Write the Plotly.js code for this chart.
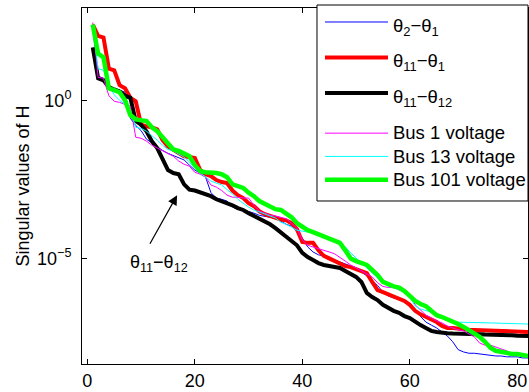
<!DOCTYPE html>
<html>
<head>
<meta charset="utf-8">
<script src="https://cdn.plot.ly/plotly-3.0.1.min.js"></script>
<style>html,body{margin:0;padding:0;background:#fff;}#plot{width:529px;height:392px;}</style>
</head>
<body>
<div id="plot"></div>
<script>
// Singular index 1..82
const index = Array.from({length: 82}, (_, i) => i + 1);

// Singular values (log scale)
const theta2_theta1 = [2.0e2,5.7,5.0,2.4,2.2,2.1,1.8,2.7e-1,1.6e-1,1.1e-1,
  5.9e-2,4.4e-2,3.5e-2,2.6e-2,2.1e-2,1.8e-2,1.6e-2,1.3e-2,8.9e-3,6.2e-3,
  5.0e-3,3.7e-3,1.2e-3,8.1e-4,7.4e-4,6.5e-4,4.2e-4,3.6e-4,3.4e-4,3.1e-4,
  2.7e-4,2.3e-4,2.2e-4,2.0e-4,1.9e-4,1.5e-4,1.2e-4,1.05e-4,7.3e-5,4.4e-5,
  2.3e-5,1.6e-5,1.3e-5,1.2e-5,1.0e-5,8.9e-6,7.7e-6,6.6e-6,5.7e-6,5.0e-6,
  3.7e-6,2.8e-6,1.9e-6,1.4e-6,8.6e-7,6.5e-7,5.6e-7,5.6e-7,4.8e-7,3.6e-7,
  2.2e-7,1.5e-7,9.7e-8,7.8e-8,6.3e-8,4.7e-8,3.5e-8,2.3e-8,1.3e-8,1.1e-8,
  1.0e-8,1.0e-8,9.5e-9,8.9e-9,8.9e-9,8.2e-9,8.2e-9,7.7e-9,7.7e-9,7.7e-9,
  7.1e-9,7.1e-9];

const theta11_theta1 = [2.5e2,1.1e2,9.7e1,1.0e1,8.9,3.0,2.4,1.2,9.3e-1,1.7e-1,
  1.5e-1,1.4e-1,1.2e-1,5.5e-2,3.5e-2,2.8e-2,2.3e-2,1.7e-2,1.6e-2,1.5e-2,
  6.2e-3,4.6e-3,4.0e-3,3.0e-3,2.6e-3,2.4e-3,1.4e-3,1.0e-3,8.1e-4,5.6e-4,
  4.5e-4,3.1e-4,2.5e-4,2.2e-4,1.9e-4,1.7e-4,1.6e-4,1.3e-4,8.4e-5,3.3e-5,
  3.1e-5,3.1e-5,1.8e-5,1.2e-5,1.0e-5,8.2e-6,6.6e-6,5.7e-6,5.3e-6,4.6e-6,
  4.0e-6,3.4e-6,1.8e-6,1.0e-6,8.6e-7,7.4e-7,6.5e-7,5.6e-7,4.5e-7,3.4e-7,
  2.2e-7,1.7e-7,1.4e-7,1.1e-7,9.7e-8,7.3e-8,6.3e-8,6.3e-8,5.9e-8,5.5e-8,
  5.5e-8,5.4e-8,5.3e-8,5.2e-8,5.1e-8,5.0e-8,4.9e-8,4.9e-8,4.8e-8,4.8e-8,
  4.7e-8,4.7e-8];

const theta11_theta12 = [4.7e1,5.0,4.3,2.6,2.2,1.9,1.4,1.2,2.2e-1,1.7e-1,
  1.05e-1,5.1e-2,3.1e-2,1.3e-2,6.2e-3,5.0e-3,4.6e-3,2.2e-3,1.5e-3,1.4e-3,
  1.2e-3,1.1e-3,9.3e-4,7.4e-4,6.5e-4,5.6e-4,4.8e-4,3.9e-4,3.4e-4,2.7e-4,
  2.2e-4,1.9e-4,1.5e-4,1.2e-4,9.1e-5,6.8e-5,5.1e-5,3.8e-5,2.6e-5,1.5e-5,
  1.1e-5,8.9e-6,7.1e-6,6.2e-6,5.7e-6,5.3e-6,5.0e-6,4.0e-6,3.2e-6,2.6e-6,
  1.8e-6,8.1e-7,6.0e-7,4.8e-7,3.4e-7,2.7e-7,2.2e-7,1.9e-7,1.5e-7,1.3e-7,
  9.7e-8,7.8e-8,6.3e-8,5.1e-8,4.7e-8,4.4e-8,4.3e-8,4.2e-8,4.2e-8,4.1e-8,
  4.1e-8,4.0e-8,4.0e-8,3.9e-8,3.9e-8,3.8e-8,3.8e-8,3.7e-8,3.7e-8,3.6e-8,
  3.6e-8,3.5e-8];

const bus1_voltage = [2.9e2,5.3,5.0,1.4,9.3e-1,8.6e-1,7.4e-1,6.5e-1,6.8e-2,6.3e-2,
  5.1e-2,3.8e-2,3.1e-2,2.5e-2,2.0e-2,1.7e-2,1.2e-2,9.5e-3,8.2e-3,5.3e-3,
  4.6e-3,3.7e-3,2.1e-3,1.8e-3,1.4e-3,1.0e-3,8.6e-4,8.6e-4,8.1e-4,8.1e-4,
  4.8e-4,3.1e-4,2.7e-4,2.3e-4,2.2e-4,2.0e-4,1.8e-4,1.3e-4,9.1e-5,3.8e-5,
  2.6e-5,2.3e-5,2.0e-5,1.8e-5,1.6e-5,1.4e-5,1.1e-5,8.2e-6,6.2e-6,5.0e-6,
  4.0e-6,3.4e-6,2.6e-6,1.7e-6,1.3e-6,1.2e-6,1.2e-6,1.0e-6,8.6e-7,7.4e-7,
  3.4e-7,2.3e-7,1.6e-7,1.3e-7,1.05e-7,9.1e-8,7.3e-8,6.3e-8,5.5e-8,5.1e-8,
  4.1e-8,3.3e-8,2.1e-8,1.8e-8,1.8e-8,1.6e-8,1.4e-8,1.2e-8,1.0e-8,8.9e-9,
  8.2e-9,7.7e-9];

const bus13_voltage = [2.0e2,1.0e1,8.9,3.0,1.5,1.0,7.4e-1,4.8e-1,1.4e-1,1.3e-1,
  1.05e-1,7.8e-2,5.5e-2,3.8e-2,2.8e-2,2.5e-2,2.0e-2,1.6e-2,1.1e-2,7.1e-3,
  5.0e-3,3.7e-3,2.8e-3,2.4e-3,2.1e-3,1.5e-3,1.1e-3,7.4e-4,5.6e-4,4.2e-4,
  3.4e-4,2.9e-4,2.5e-4,2.2e-4,1.9e-4,1.4e-4,1.2e-4,9.7e-5,7.8e-5,7.3e-5,
  6.8e-5,6.3e-5,5.9e-5,5.1e-5,4.4e-5,3.5e-5,2.8e-5,2.3e-5,1.5e-5,1.0e-5,
  7.1e-6,5.0e-6,3.4e-6,2.4e-6,1.7e-6,1.3e-6,1.2e-6,1.0e-6,8.6e-7,6.0e-7,
  3.1e-7,2.5e-7,2.2e-7,2.0e-7,1.6e-7,1.3e-7,1.1e-7,9.7e-8,9.7e-8,9.7e-8,
  9.5e-8,9.4e-8,9.3e-8,9.2e-8,9.1e-8,9.0e-8,8.9e-8,8.8e-8,8.7e-8,8.6e-8,
  8.5e-8,8.4e-8];

const bus101_voltage = [2.5e2,3.0e1,2.3e1,2.4,2.1,1.8,1.0,3.4e-1,2.5e-1,2.3e-1,
  2.2e-1,1.4e-1,1.05e-1,6.8e-2,4.4e-2,2.8e-2,2.5e-2,2.0e-2,1.7e-2,8.9e-3,
  5.7e-3,5.3e-3,5.3e-3,5.0e-3,4.6e-3,3.7e-3,2.2e-3,1.9e-3,1.7e-3,1.2e-3,
  9.3e-4,6.5e-4,5.2e-4,4.2e-4,3.6e-4,3.4e-4,2.5e-4,2.0e-4,1.3e-4,9.7e-5,
  7.8e-5,6.8e-5,5.9e-5,5.1e-5,4.4e-5,3.8e-5,3.1e-5,1.8e-5,1.0e-5,8.2e-6,
  7.1e-6,6.2e-6,4.3e-6,3.0e-6,1.8e-6,1.5e-6,1.3e-6,1.2e-6,9.3e-7,6.5e-7,
  4.5e-7,3.6e-7,3.1e-7,2.2e-7,1.6e-7,1.4e-7,1.2e-7,1.05e-7,8.4e-8,6.8e-8,
  5.5e-8,4.4e-8,3.3e-8,2.3e-8,1.5e-8,1.2e-8,1.1e-8,1.0e-8,9.5e-9,9.5e-9,
  8.9e-9,8.2e-9];

const seriesNames = ['θ<sub>2</sub>−θ<sub>1</sub>', 'θ<sub>11</sub>−θ<sub>1</sub>', 'θ<sub>11</sub>−θ<sub>12</sub>',
  'Bus 1 voltage', 'Bus 13 voltage', 'Bus 101 voltage'];
const xTicks = [0, 20, 40, 60, 80];
const yTickVals = [1, 1e-5];
const yTickText = ['10<sup>0</sup>', '10<sup>−5</sup>'];
const annotationText = 'θ<sub>11</sub>−θ<sub>12</sub>';

const seriesData = [theta2_theta1, theta11_theta1, theta11_theta12, bus1_voltage, bus13_voltage, bus101_voltage];
const colors = ['#0000ff', '#ff0000', '#000000', '#ff00ff', '#00ffff', '#00ff00'];
const widths = [1, 4, 4, 1, 1, 4.5];
const legendIds = ['legend', 'legend', 'legend', 'legend2', 'legend2', 'legend2'];

const traces = seriesData.map((ys, i) => ({
  x: index, y: ys, type: 'scatter', mode: 'lines',
  name: '<span style="font-size:18.5px">' + seriesNames[i] + '</span>',
  legend: legendIds[i],
  line: {color: colors[i], width: widths[i]}
}));

const fam = 'Liberation Sans, Arial, sans-serif';
const font = {family: fam, size: 18, color: '#000'};

const layout = {
  width: 529, height: 392,
  margin: {l: 82, r: 1, t: 8, b: 28, autoexpand: false},
  paper_bgcolor: '#fff', plot_bgcolor: '#fff',
  font: font,
  showlegend: true,
  xaxis: {
    range: [-1, 82], tickvals: xTicks, ticktext: xTicks.map(String),
    ticks: 'inside', ticklen: 5, tickcolor: '#000', showline: true, linecolor: '#000', linewidth: 1,
    mirror: 'ticks', showgrid: false, zeroline: false, tickfont: font, automargin: false
  },
  yaxis: {
    type: 'log', range: [-8.34, 2.92], tickvals: yTickVals, ticktext: yTickText,
    ticks: 'inside', ticklen: 5, tickcolor: '#000', showline: true, linecolor: '#000', linewidth: 1,
    mirror: 'ticks', showgrid: false, zeroline: false, tickfont: font, ticklabelstandoff: 6,
    automargin: false,
    title: {text: 'Singular values of H', font: font, standoff: 2}
  },
  legend: {
    x: 0.5336, y: 1.0246, xanchor: 'left', yanchor: 'top',
    bgcolor: 'rgba(0,0,0,0)', borderwidth: 0,
    font: {family: fam, size: 25, color: '#000'}, itemwidth: 63
  },
  legend2: {
    x: 0.5336, y: 0.6952, xanchor: 'left', yanchor: 'top',
    bgcolor: 'rgba(0,0,0,0)', borderwidth: 0,
    font: {family: fam, size: 15.6, color: '#000'}, itemwidth: 63
  },
  shapes: [
    {type: 'rect', xref: 'paper', yref: 'paper', x0: 0.5269, x1: 1.0, y0: 0.4579, y1: 1.0084,
     line: {color: '#000', width: 1}, fillcolor: '#fff', layer: 'above'}
  ],
  annotations: [
    {x: 16.7, y: -3.0, xref: 'x', yref: 'y', text: '', showarrow: true,
     ax: -28, ay: 50, arrowhead: 2, arrowsize: 1.6, arrowwidth: 1.2, arrowcolor: '#000'},
    {x: 13.3, y: -5.15, xref: 'x', yref: 'y', text: annotationText, showarrow: false, font: font}
  ]
};

Plotly.newPlot('plot', traces, layout, {displayModeBar: false, staticPlot: true});
</script>
</body>
</html>
